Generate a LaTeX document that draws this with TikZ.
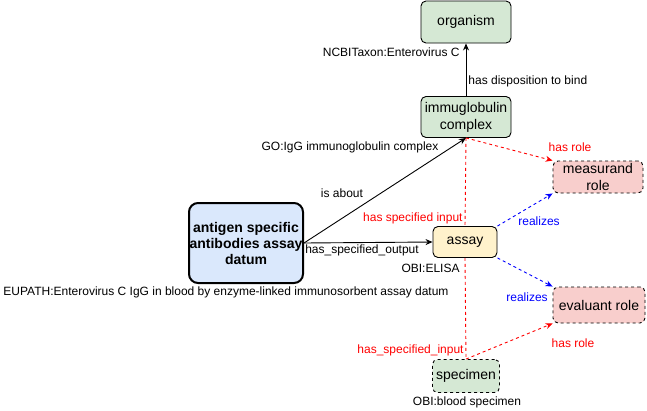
\documentclass[tikz,border=0pt]{standalone}
\usepackage{fontspec}
\setmainfont{Liberation Sans}
\usetikzlibrary{arrows.meta}

\definecolor{termgreen}{HTML}{D5E8D4}
\definecolor{termblue}{HTML}{DAE8FC}
\definecolor{termred}{HTML}{F8CECC}
\definecolor{termyellow}{HTML}{FFF2CC}

\begin{document}
\begin{tikzpicture}[x=1pt, y=-1pt, line width=0.9pt,
    box/.style={draw=black, rounded corners=5pt, align=center, inner sep=0pt,
                font=\fontsize{14}{17}\selectfont},
    lbl/.style={font=\fontsize{12}{14}\selectfont, inner sep=1pt},
    arr/.style={-{Stealth[length=7pt, width=6pt]}},
    dsh/.style={dash pattern=on 3pt off 3pt}]
    \useasboundingbox (0,0) rectangle (647,410);

    % Begriffe
    \node[box, fill=termgreen, minimum width=90pt, minimum height=42pt] (organism) at (466,22) {organism};
    \node[box, fill=termgreen, minimum width=90pt, minimum height=41pt] (immu) at (466,117) {immuglobulin\\complex};
    \node[box, fill=termred, dashed, minimum width=90pt, minimum height=32pt] (measurand) at (598,177) {measurand\\role};
    \node[box, fill=termblue, line width=2pt, rounded corners=9pt, font=\fontsize{14}{16}\selectfont\bfseries,
          minimum width=114pt, minimum height=80pt] (datum) at (246,243) {antigen specific\\antibodies assay\\datum};
    \node[box, fill=termyellow, minimum width=64pt, minimum height=31pt] (assay) at (465,242) {assay};
    \node[box, fill=termred, dashed, minimum width=92pt, minimum height=36pt] (evaluant) at (599,305) {evaluant role};
    \node[box, fill=termgreen, dashed, minimum width=67pt, minimum height=33pt] (specimen) at (466,376) {specimen};

    % Kanten
    \draw[red, dsh] (immu.south) -- (assay.north);
    \draw[red, dsh] (assay.south) -- (specimen.north);
    \draw[arr] (immu) -- (organism);
    \draw[arr] (datum.east) -- (immu.south);
    \draw[arr] (datum.east) -- (assay.west);
    \draw[arr, red, dsh] (immu.south) -- (measurand.north west);
    \draw[arr, blue, dsh] (assay.north east) -- (measurand.south west);
    \draw[arr, blue, dsh] (assay.south east) -- (evaluant.north west);
    \draw[arr, red, dsh] (specimen.north) -- (evaluant.south west);

    % Beschriftungen
    \node[lbl, anchor=east] (taxon) at (461,52) {NCBITaxon:Enterovirus C};
    \node[lbl, anchor=west] (bind) at (467,81) {has disposition to bind};
    \node[lbl] (golbl) at (350,147) {GO:IgG immunoglobulin complex};
    \node[lbl, red] (role1) at (570,147) {has role};
    \node[lbl] (about) at (342,193) {is about};
    \node[lbl, red, anchor=east] (input1) at (464,218) {has specified input};
    \node[lbl, blue] (real1) at (539,221) {realizes};
    \node[lbl] (output) at (362,250) {has\_specified\_output};
    \node[lbl, anchor=east] (elisa) at (461,268) {OBI:ELISA};
    \node[lbl, anchor=west] (eupath) at (2,292) {EUPATH:Enterovirus C IgG in blood by enzyme-linked immunosorbent assay datum};
    \node[lbl, blue] (real2) at (527,297) {realizes};
    \node[lbl, red] (role2) at (573,343) {has role};
    \node[lbl, red, anchor=east] (input2) at (465,350) {has\_specified\_input};
    \node[lbl] (blood) at (467,402) {OBI:blood specimen};
\end{tikzpicture}
\end{document}
